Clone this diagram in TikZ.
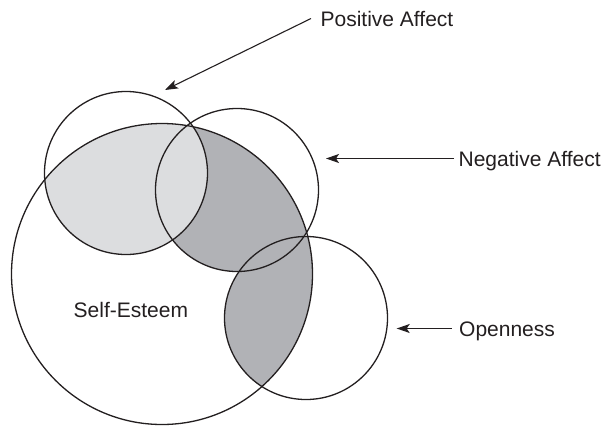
\documentclass[tikz,border=0pt]{standalone}
\usepackage{fontspec}
\setmainfont{Liberation Sans}
\usetikzlibrary{arrows.meta}
\definecolor{ink}{RGB}{35,31,32}
\definecolor{lightfill}{RGB}{220,221,223}
\definecolor{darkfill}{RGB}{177,178,182}
\tikzset{
  ring/.style={draw=ink, line width=1.3pt},
  lbl/.style={font=\fontsize{21}{25}\selectfont, text=ink, inner ysep=0pt,
              text height=15pt, text depth=0pt},
  pointer/.style={draw=ink, line width=1.1pt, -{Stealth[length=13pt, width=9pt, inset=3pt]}}
}
\begin{document}
\begin{tikzpicture}[x=1pt, y=-1pt]
\useasboundingbox (0,0) rectangle (607,426);

% circle centres and radii
\coordinate (cPA) at (126,173);
\coordinate (cNA) at (237,190);
\coordinate (cSE) at (162,274);
\coordinate (cOP) at (306,318);
\def\rs{81.5}
\def\rb{150.5}

% dark region: Negative Affect inside Self-Esteem
\begin{scope}
  \clip (cSE) circle (\rb);
  \fill[darkfill] (cNA) circle (\rs);
\end{scope}
% dark region: Openness inside Self-Esteem
\begin{scope}
  \clip (cSE) circle (\rb);
  \fill[darkfill] (cOP) circle (\rs);
\end{scope}
% light region: Positive Affect inside Self-Esteem
\begin{scope}
  \clip (cSE) circle (\rb);
  \fill[lightfill] (cPA) circle (\rs);
\end{scope}

% outlines
\draw[ring] (cSE) circle (\rb);
\draw[ring] (cPA) circle (\rs);
\draw[ring] (cNA) circle (\rs);
\draw[ring] (cOP) circle (\rs);

% labels
\node[lbl, anchor=base west, inner xsep=0pt] (se) at (73.5,317) {Self-Esteem};
\node[lbl, anchor=base west, inner xsep=9.4pt] (pa) at (311,26) {Positive Affect};
\node[lbl, anchor=base west, inner xsep=4.4pt] (na) at (454,166) {Negative Affect};
\node[lbl, anchor=base west, inner xsep=7.3pt] (op) at (451.7,336) {Openness};

% arrow tips beside the circles
\coordinate (paTip) at (165,90);
\coordinate (naTip) at (326,158.5);
\coordinate (opTip) at (396.7,328.5);

\draw[pointer] (pa.west) -- (paTip);
\draw[pointer] (na.west) -- (naTip);
\draw[pointer] (op.west) -- (opTip);
\end{tikzpicture}
\end{document}
